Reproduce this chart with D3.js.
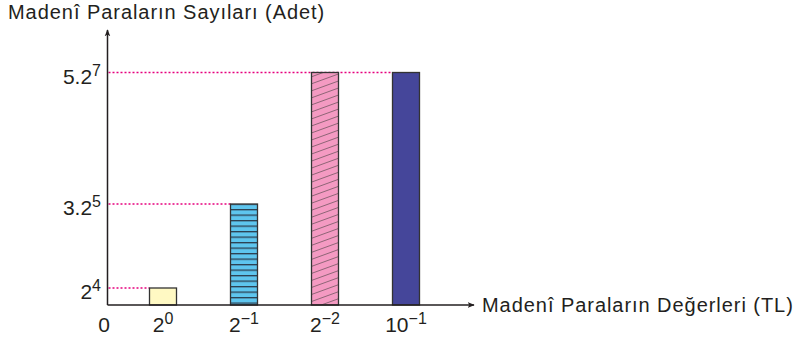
<!DOCTYPE html>
<html><head><meta charset="utf-8">
<script src="https://cdn.jsdelivr.net/npm/d3@7"></script>
<style>html,body{margin:0;padding:0;background:#fff;}svg{display:block;font-family:"Liberation Sans",Arial,sans-serif;}</style>
</head><body>
<svg id="c" width="797" height="340"></svg>
<script>
// Data
const categories = ["2^0", "2^-1", "2^-2", "10^-1"];
const catBase = ["2", "2", "2", "10"];
const catExp = ["0", "\u22121", "\u22122", "\u22121"];
const values = [16, 96, 640, 640];
const tickValues = [16, 96, 640];
const tickBase = ["2", "3.2", "5.2"];
const tickExp = ["4", "5", "7"];
const yTitle = "Madenî Paraların Sayıları (Adet)";
const xTitle = "Madenî Paraların Değerleri (TL)";

const svg = d3.select("#c");
const ink = "#231f20";
const x0 = 107.5, yBase = 305;

// schematic (non-proportional) y scale as in the original drawing
const y = d3.scaleLinear().domain([0, 16, 96, 640]).range([yBase, 288, 204, 72.5]);
const x = d3.scaleBand().domain(categories).range([122.5, 446.5]).paddingInner(2/3).paddingOuter(1/3);

const defs = svg.append("defs");
const pb = defs.append("pattern").attr("id", "blue").attr("patternUnits", "userSpaceOnUse")
  .attr("width", 8).attr("height", 5.5);
pb.append("rect").attr("width", 8).attr("height", 5.5).attr("fill", "#5ec5ee");
pb.append("rect").attr("y", 0).attr("width", 8).attr("height", 1.3).attr("fill", "#2c3e50");
const pp = defs.append("pattern").attr("id", "pink").attr("patternUnits", "userSpaceOnUse")
  .attr("width", 10).attr("height", 6.6).attr("patternTransform", "rotate(-20)");
pp.append("rect").attr("width", 10).attr("height", 6.6).attr("fill", "#f49ac2");
pp.append("line").attr("x1", 0).attr("x2", 10).attr("y1", 0.4).attr("y2", 0.4)
  .attr("stroke", "#5a4a50").attr("stroke-width", 0.7);
defs.append("marker").attr("id", "arr").attr("viewBox", "0 0 10 10").attr("refX", 9).attr("refY", 5)
  .attr("markerWidth", 7).attr("markerHeight", 7).attr("markerUnits", "userSpaceOnUse").attr("orient", "auto")
  .append("path").attr("d", "M0,1 L10,5 L0,9 L2.5,5 Z").attr("fill", ink);

const fills = ["#fff9c3", "url(#blue)", "url(#pink)", "#45469a"];

// dotted guide lines
tickValues.forEach((v) => {
  let last = -1;
  values.forEach((d, j) => { if (d === v) last = j; });
  svg.append("line").attr("x1", x0 + 1).attr("x2", x(categories[last]))
    .attr("y1", y(v)).attr("y2", y(v))
    .attr("stroke", "#e6007e").attr("stroke-width", 1.5).attr("stroke-dasharray", "2,2");
});

// bars
svg.selectAll("rect.bar").data(categories).enter().append("rect").attr("class", "bar")
  .attr("x", d => x(d)).attr("width", x.bandwidth())
  .attr("y", (d, i) => y(values[i])).attr("height", (d, i) => yBase - y(values[i]))
  .attr("fill", (d, i) => fills[i]).attr("stroke", "#333").attr("stroke-width", 1.3);

// axes
svg.append("line").attr("x1", x0).attr("x2", x0).attr("y1", yBase).attr("y2", 30)
  .attr("stroke", ink).attr("stroke-width", 1.5).attr("marker-end", "url(#arr)");
svg.append("line").attr("x1", x0).attr("x2", 474).attr("y1", yBase).attr("y2", yBase)
  .attr("stroke", ink).attr("stroke-width", 1.5).attr("marker-end", "url(#arr)");

// y tick labels
tickValues.forEach((v, i) => {
  const t = svg.append("text").attr("x", 101).attr("y", y(v) + 11).attr("text-anchor", "end")
    .attr("font-size", 21).attr("fill", ink);
  t.append("tspan").text(tickBase[i]);
  t.append("tspan").attr("dy", -8).attr("font-size", 16).text(tickExp[i]);
});

// x tick labels
categories.forEach((c, i) => {
  const t = svg.append("text").attr("x", x(c) + x.bandwidth() / 2).attr("y", 332).attr("text-anchor", "middle")
    .attr("font-size", 21).attr("fill", ink);
  t.append("tspan").text(catBase[i]);
  t.append("tspan").attr("dy", -8).attr("font-size", 16).text(catExp[i]);
});
svg.append("text").attr("x", 104).attr("y", 332).attr("text-anchor", "middle").attr("font-size", 21).attr("fill", ink).text("0");

// titles
svg.append("text").attr("x", 8).attr("y", 18.5).attr("font-size", 20).attr("letter-spacing", 0.95).attr("fill", ink).text(yTitle);
svg.append("text").attr("x", 482).attr("y", 312).attr("font-size", 20).attr("letter-spacing", 0.95).attr("fill", ink).text(xTitle);
</script>
</body></html>
